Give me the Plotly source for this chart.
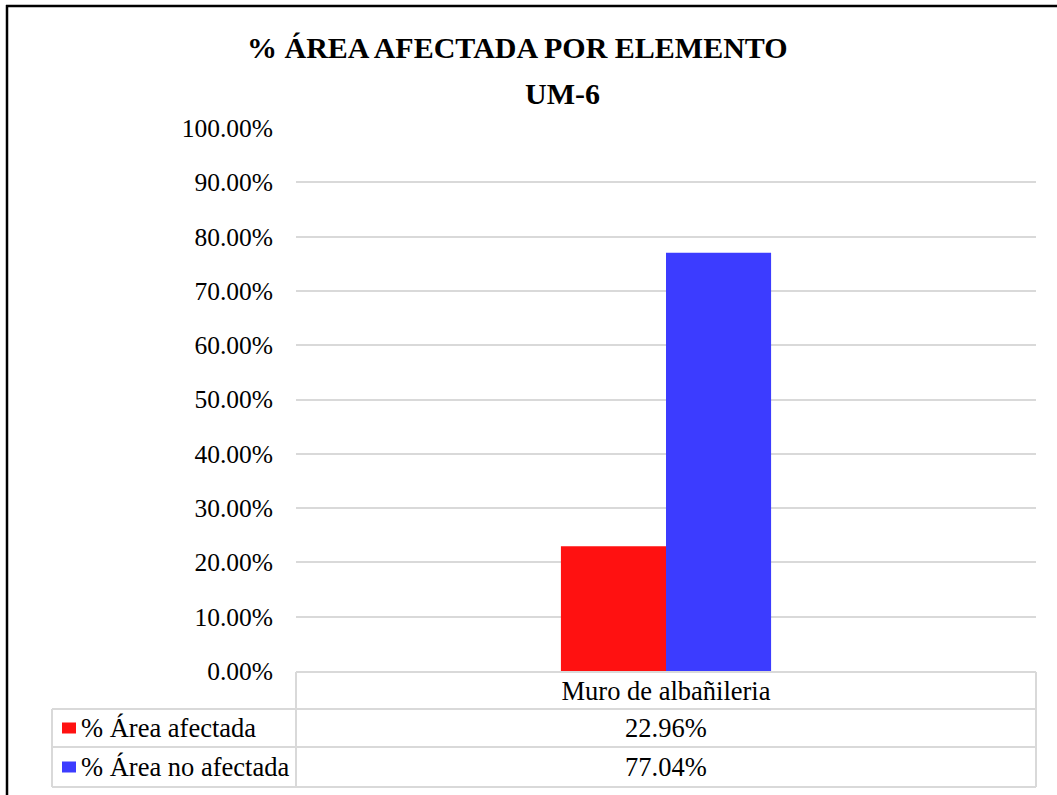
import plotly.graph_objects as go

# Chart data
categories = ["Muro de albañileria"]
series_names = ["% Área afectada", "% Área no afectada"]
series_values = [[22.96], [77.04]]
series_colors = ["#ff1111", "#3c3cff"]
y_ticks = [0, 10, 20, 30, 40, 50, 60, 70, 80, 90, 100]
y_tick_labels = [f"{v:.2f}%" for v in y_ticks]
title_lines = ["% ÁREA AFECTADA POR ELEMENTO", "UM-6"]

W, H = 1057, 795
L, R, T, B = 296, 1036, 128, 671  # plot area in pixels

def xp(px):
    return (px - L) / (R - L)

def yp(py):
    return (B - py) / (B - T)

FONT = "Liberation Serif"
GRID = "#d9d9d9"
TABLE_SIZE = 26.5
TICK_SIZE = 25.5
TITLE_SIZE = 30

fig = go.Figure()
for name, vals, color in zip(series_names, series_values, series_colors):
    fig.add_trace(go.Bar(x=categories, y=vals, name=name, marker=dict(color=color, line=dict(width=0))))

shapes = []
# outer chart border (top and left edges)
shapes.append(dict(type="line", xref="paper", yref="paper", x0=xp(7), x1=xp(7), y0=yp(5), y1=yp(810),
                   line=dict(color="black", width=2.5)))
shapes.append(dict(type="line", xref="paper", yref="paper", x0=xp(6), x1=xp(1070), y0=yp(6), y1=yp(6),
                   line=dict(color="black", width=2.5)))

# data table grid
row_lines = [(296, 672), (52, 709), (52, 747), (52, 787)]
for x0, y in row_lines:
    shapes.append(dict(type="line", xref="paper", yref="paper", x0=xp(x0), x1=xp(1036), y0=yp(y), y1=yp(y),
                       line=dict(color=GRID, width=2)))
col_lines = [(52, 709), (296, 672), (1036, 672)]
for x, y0 in col_lines:
    shapes.append(dict(type="line", xref="paper", yref="paper", x0=xp(x), x1=xp(x), y0=yp(y0), y1=yp(787),
                       line=dict(color=GRID, width=2)))

# data table rows: legend key, series name, value
row_centers = [728, 767]
annotations = []
for i, (name, vals, color) in enumerate(zip(series_names, series_values, series_colors)):
    yc = row_centers[i]
    shapes.append(dict(type="rect", xref="paper", yref="paper", x0=xp(62), x1=xp(76),
                       y0=yp(yc - 5.5), y1=yp(yc + 5.5), fillcolor=color, line=dict(width=0)))
    annotations.append(dict(text=name, xref="paper", yref="paper", x=xp(79), y=yp(yc), xanchor="left",
                            yanchor="middle", showarrow=False,
                            font=dict(family=FONT, size=TABLE_SIZE, color="black")))
    annotations.append(dict(text=f"{vals[0]:.2f}%", xref="paper", yref="paper", x=xp(666), y=yp(yc),
                            xanchor="center", yanchor="middle", showarrow=False,
                            font=dict(family=FONT, size=TABLE_SIZE, color="black")))

# two-line title
annotations.append(dict(text=f"<b>{title_lines[0]}</b>", xref="paper", yref="paper", x=xp(517), y=yp(48),
                        xanchor="center", yanchor="middle", showarrow=False,
                        font=dict(family=FONT, size=TITLE_SIZE, color="black")))
annotations.append(dict(text=f"<b>{title_lines[1]}</b>", xref="paper", yref="paper", x=xp(562), y=yp(93),
                        xanchor="center", yanchor="middle", showarrow=False,
                        font=dict(family=FONT, size=TITLE_SIZE, color="black")))

fig.update_layout(
    width=W, height=H,
    margin=dict(l=L, r=W - R, t=T, b=H - B, pad=0),
    paper_bgcolor="white", plot_bgcolor="white",
    font=dict(family=FONT, size=TICK_SIZE, color="black"),
    barmode="group", bargap=0.716, bargroupgap=0,
    showlegend=False,
    shapes=shapes, annotations=annotations,
)
fig.update_yaxes(range=[0, 100], tickmode="array", tickvals=y_ticks, ticktext=y_tick_labels,
                 showgrid=True, gridcolor=GRID, gridwidth=2, zeroline=False, showline=False,
                 ticks="", ticklabelstandoff=22, tickfont=dict(family=FONT, size=TICK_SIZE, color="black"))
fig.update_xaxes(showgrid=False, zeroline=False, showline=False, ticks="",
                 ticklabelstandoff=1, tickfont=dict(family=FONT, size=TABLE_SIZE, color="black"))

fig.write_html("out.html")
